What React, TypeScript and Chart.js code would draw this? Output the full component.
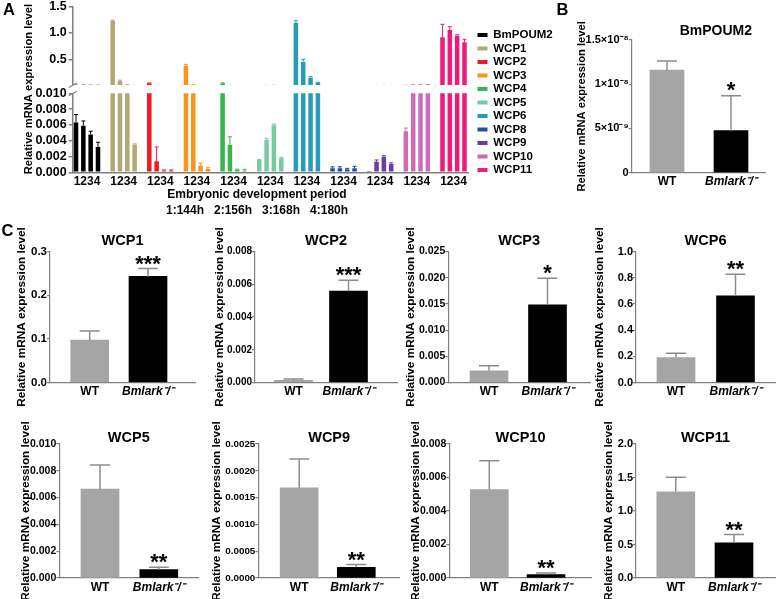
import React, { useEffect, useRef } from 'react';
import { Chart, registerables } from 'chart.js';

Chart.register(...registerables);

const FONT = 'Arial, "Liberation Sans", Helvetica, sans-serif';
Chart.defaults.font.family = FONT;
const AXIS = '#808080';
const GRAY = '#a5a5a5';
const BLACK = '#000000';
const ERR = '#8c8c8c';

// ---------------- Panel A data ----------------
const aGenes = ['BmPOUM2', 'WCP1', 'WCP2', 'WCP3', 'WCP4', 'WCP5', 'WCP6', 'WCP8', 'WCP9', 'WCP10', 'WCP11'];
const aColors = ['#000000', '#b3a878', '#ed1c24', '#f7941d', '#39b54a', '#78cba0', '#2a9bb7', '#1f4fa3', '#6a3d9a', '#cc6db3', '#ec1c7a'];
const aPeriods = ['1', '2', '3', '4'];
const aXTitle = ['Embryonic development period', '1:144h   2:156h   3:168h   4:180h'];
const aYTitle = 'Relative mRNA expression level';
const aUpperTicks = ['0.5', '1.0', '1.5'];
const aLowerTicks = ['0.000', '0.002', '0.004', '0.006', '0.008', '0.010'];

const aBmPOUM2 = [0.0063, 0.0059, 0.0048, 0.0032];
const aBmPOUM2Sd = [0.001, 0.0006, 0.0004, 0.0006];
const aWCP1 = [1.23, 0.087, 0.013, 0.0035];
const aWCP1Sd = [0.015, 0.015, 0.002, 0.0001];
const aWCP2 = [0.045, 0.0014, 0.0002, 0.0002];
const aWCP2Sd = [0.004, 0.0018, 0.0001, 0.0001];
const aWCP3 = [0.378, 0.012, 0.00085, 0.00042];
const aWCP3Sd = [0.025, 0.002, 0.0003, 0.00016];
const aWCP4 = [0.045, 0.0035, 0.0003, 0.0002];
const aWCP4Sd = [0.004, 0.001, 0.0001, 0.00018];
const aWCP5 = [0.00156, 0.0041, 0.00595, 0.00177];
const aWCP5Sd = [0.00005, 0.0002, 0.00015, 0.00013];
const aWCP6 = [1.196, 0.454, 0.15, 0.055];
const aWCP6Sd = [0.038, 0.046, 0.02, 0.006];
const aWCP8 = [0.0005, 0.0005, 0.0004, 0.0005];
const aWCP8Sd = [0.0002, 0.0002, 0.0001, 0.00025];
const aWCP9 = [0.00003, 0.00134, 0.00198, 0.00105];
const aWCP9Sd = [0, 0.00022, 0.00012, 0.00015];
const aWCP10 = [0.0052, 0.012, 0.012, 0.013];
const aWCP10Sd = [0.0004, 0.003, 0.002, 0.004];
const aWCP11 = [0.918, 1.057, 0.949, 0.823];
const aWCP11Sd = [0.247, 0.063, 0.019, 0.057];

const aMeans = [aBmPOUM2, aWCP1, aWCP2, aWCP3, aWCP4, aWCP5, aWCP6, aWCP8, aWCP9, aWCP10, aWCP11];
const aSds = [aBmPOUM2Sd, aWCP1Sd, aWCP2Sd, aWCP3Sd, aWCP4Sd, aWCP5Sd, aWCP6Sd, aWCP8Sd, aWCP9Sd, aWCP10Sd, aWCP11Sd];

// ---------------- Panel B data ----------------
const bTitle = 'BmPOUM2';
const bGroups = ['WT', 'Bmlark⁻/⁻'];
const bTickValues = [0, 5e-9, 1e-8, 1.5e-8];
const bTickLabels = ['0', '5×10⁻⁹', '1×10⁻⁸', '1.5×10⁻⁸'];
const bMeans = [1.161e-8, 4.75e-9];
const bSd = [1.02e-9, 3.96e-9];
const bStars = ['', '*'];

// ---------------- Panel C data ----------------
const cGroups = ['WT', 'Bmlark⁻/⁻'];
const cWCP1Ticks = ['0.0', '0.1', '0.2', '0.3'];
const cWCP1 = [0.097, 0.243];
const cWCP1Sd = [0.021, 0.018];
const cWCP1Stars = ['', '***'];
const cWCP2Ticks = ['0.000', '0.002', '0.004', '0.006', '0.008'];
const cWCP2 = [0.00013, 0.00558];
const cWCP2Sd = [0.00008, 0.00066];
const cWCP2Stars = ['', '***'];
const cWCP3Ticks = ['0.000', '0.005', '0.010', '0.015', '0.020', '0.025'];
const cWCP3 = [0.00225, 0.0148];
const cWCP3Sd = [0.00095, 0.0051];
const cWCP3Stars = ['', '*'];
const cWCP6Ticks = ['0.0', '0.2', '0.4', '0.6', '0.8', '1.0'];
const cWCP6 = [0.19, 0.662];
const cWCP6Sd = [0.033, 0.164];
const cWCP6Stars = ['', '**'];
const cWCP5Ticks = ['0.000', '0.002', '0.004', '0.006', '0.008', '0.010'];
const cWCP5 = [0.00663, 0.00063];
const cWCP5Sd = [0.0018, 0.00017];
const cWCP5Stars = ['', '**'];
const cWCP9Ticks = ['0.0000', '0.0005', '0.0010', '0.0015', '0.0020', '0.0025'];
const cWCP9 = [0.00168, 0.0002];
const cWCP9Sd = [0.00054, 0.00005];
const cWCP9Stars = ['', '**'];
const cWCP10Ticks = ['0.000', '0.002', '0.004', '0.006', '0.008'];
const cWCP10 = [0.00528, 0.0002];
const cWCP10Sd = [0.00172, 0.0001];
const cWCP10Stars = ['', '**'];
const cWCP11Ticks = ['0.0', '0.5', '1.0', '1.5', '2.0'];
const cWCP11 = [1.287, 0.524];
const cWCP11Sd = [0.217, 0.125];
const cWCP11Stars = ['', '**'];

// ---------------- plugins ----------------
const errorBarPlugin = {
  id: 'errorBars',
  afterDatasetsDraw(chart: any) {
    const ctx = chart.ctx;
    chart.data.datasets.forEach((ds: any, di: number) => {
      if (!ds.sd) return;
      const meta = chart.getDatasetMeta(di);
      const yScale = chart.scales[meta.yAxisID];
      const xScale = chart.scales[meta.xAxisID];
      ctx.save();
      ctx.beginPath();
      ctx.rect(xScale.left, yScale.top - 1, xScale.right - xScale.left, yScale.bottom - yScale.top + 1);
      ctx.clip();
      meta.data.forEach((el: any, i: number) => {
        const sd = ds.sd[i];
        if (!sd) return;
        const v = ds.data[i].y;
        const top = yScale.getPixelForValue(v + sd);
        const barTop = yScale.getPixelForValue(v);
        const col = Array.isArray(ds.errColor) ? ds.errColor[i] : ds.errColor;
        ctx.strokeStyle = col;
        ctx.lineWidth = ds.errWidth;
        ctx.beginPath();
        ctx.moveTo(el.x, barTop);
        ctx.lineTo(el.x, top);
        ctx.moveTo(el.x - ds.capHalf, top);
        ctx.lineTo(el.x + ds.capHalf, top);
        ctx.stroke();
      });
      ctx.restore();
    });
  },
};

const starPlugin = {
  id: 'stars',
  afterDatasetsDraw(chart: any) {
    const ctx = chart.ctx;
    chart.data.datasets.forEach((ds: any, di: number) => {
      if (!ds.stars) return;
      const meta = chart.getDatasetMeta(di);
      const yScale = chart.scales[meta.yAxisID];
      meta.data.forEach((el: any, i: number) => {
        const s = ds.stars[i];
        if (!s) return;
        const v = ds.data[i].y + (ds.sd ? ds.sd[i] : 0);
        const top = yScale.getPixelForValue(v);
        ctx.save();
        ctx.font = `bold ${ds.starSize}px ${FONT}`;
        const m = ctx.measureText(s);
        const center = top - ds.starGap;
        const baseline = center + (m.actualBoundingBoxAscent - m.actualBoundingBoxDescent) / 2;
        ctx.textAlign = 'center';
        ctx.textBaseline = 'alphabetic';
        ctx.fillStyle = '#000';
        ctx.fillText(s, el.x, baseline);
        ctx.restore();
      });
    });
  },
};

// ---------------- Panel A config ----------------
const A_CANVAS = { left: 0, top: 0, width: 560, height: 222 };
const A_AXIS_LEFT = 72.7;
const A_AXIS_RIGHT = 468;
const A_FIRST = 87;
const A_LAST = 453.5;
const A_TOP = 6.7;
const A_BREAK_TOP = 85;
const A_BREAK_BOTTOM = 93.3;
const A_ZERO = 172.3;

const breakPlugin = {
  id: 'axisBreak',
  afterDraw(chart: any) {
    const s = chart.scales.ySp;
    const x = chart.chartArea.left;
    const ctx = chart.ctx;
    ctx.save();
    ctx.strokeStyle = AXIS;
    ctx.lineWidth = 1.2;
    ctx.beginPath();
    ctx.moveTo(x - 4, s.top + 2.5);
    ctx.lineTo(x + 4, s.top - 2);
    ctx.moveTo(x - 4, s.bottom + 2.5);
    ctx.lineTo(x + 4, s.bottom - 2);
    ctx.stroke();
    ctx.restore();
  },
};

const legendPlacePlugin = {
  id: 'legendPlace',
  afterLayout(chart: any) {
    const lg = chart.legend;
    if (!lg) return;
    const h = lg.height;
    const w = lg.width;
    lg.left = 475.5;
    lg.top = 27.25;
    lg.right = lg.left + w;
    lg.bottom = lg.top + h;
  },
};

function makeA(): any {
  const pitch = (A_LAST - A_FIRST) / (aGenes.length - 1);
  const xMin = -(A_FIRST - A_AXIS_LEFT) / pitch;
  const xMax = aGenes.length - 1 + (A_AXIS_RIGHT - A_LAST) / pitch;
  const datasets: any[] = [];
  ['yTop', 'yBot'].forEach((axis) => {
    aPeriods.forEach((p, pi) => {
      datasets.push({
        label: 'Period ' + p,
        data: aMeans.map((g, gi) => ({ x: gi, y: g[pi] })),
        sd: aSds.map((g) => g[pi]),
        yAxisID: axis,
        xAxisID: 'x',
        stack: 'p' + pi,
        backgroundColor: aColors,
        borderWidth: 0,
        barPercentage: 0.62,
        categoryPercentage: 0.8,
        errColor: aColors,
        errWidth: 1,
        capHalf: 2,
      });
    });
  });
  const yWidth = A_AXIS_LEFT - A_CANVAS.left;
  const fitY = (s: any) => {
    s.width = yWidth;
    s.paddingTop = 0;
    s.paddingBottom = 0;
  };
  const tickFont = { family: FONT, size: 12.5, weight: 'bold' };
  const upperH = A_BREAK_TOP - A_TOP;
  const gapH = A_BREAK_BOTTOM - A_BREAK_TOP;
  const lowerH = A_ZERO - A_BREAK_BOTTOM;
  return {
    type: 'bar',
    data: { datasets },
    options: {
      responsive: false,
      animation: false,
      devicePixelRatio: 1,
      events: [],
      layout: { padding: { left: 0, top: A_TOP - A_CANVAS.top, right: A_CANVAS.left + A_CANVAS.width - A_AXIS_RIGHT, bottom: 0 } },
      plugins: {
        tooltip: { enabled: false },
        title: { display: false },
        legend: {
          display: true,
          position: 'chartArea',
          align: 'start',
          labels: {
            boxWidth: 10,
            boxHeight: 4,
            padding: 2,
            color: '#000',
            font: { family: FONT, size: 11.5, weight: 'bold' },
            generateLabels: () =>
              aGenes.map((g, i) => ({ text: g, fillStyle: aColors[i], strokeStyle: aColors[i], lineWidth: 0, hidden: false, index: i })),
          },
        },
      },
      scales: {
        x: {
          type: 'linear',
          min: xMin,
          max: xMax,
          offset: false,
          afterBuildTicks: (s: any) => {
            s.ticks = aGenes.map((_, i) => ({ value: i }));
          },
          ticks: { autoSkip: false, maxRotation: 0, padding: 2, color: '#000', font: { family: FONT, size: 12, weight: 'bold' }, callback: () => aPeriods.join('') },
          grid: { display: false, drawTicks: false },
          border: { display: true, color: AXIS, width: 1.5 },
          title: {
            display: true,
            text: aXTitle.map((t) => t + ' '.repeat(8)),
            color: '#000',
            font: { family: FONT, size: 12, weight: 'bold', lineHeight: '16.5px' },
            padding: { top: 0, bottom: 2.75 },
          },
          afterFit: (s: any) => {
            s.height = A_CANVAS.top + A_CANVAS.height - A_ZERO;
            s.paddingLeft = 0;
            s.paddingRight = 0;
          },
        },
        // left stacked axes are laid out in reverse order: last defined is on top
        yBot: {
          type: 'linear',
          position: 'left',
          stack: 'ya',
          stackWeight: lowerH,
          stacked: false,
          min: 0,
          max: 0.01,
          afterBuildTicks: (s: any) => {
            s.ticks = aLowerTicks.map((t) => ({ value: parseFloat(t) }));
          },
          ticks: { autoSkip: false, callback: (_v: any, i: number) => aLowerTicks[i], color: '#000', font: tickFont, padding: 2 },
          grid: { display: true, drawOnChartArea: false, drawTicks: true, tickLength: 4, color: AXIS, lineWidth: 1.5 },
          border: { display: true, color: AXIS, width: 1.5 },
          afterFit: fitY,
        },
        ySp: {
          type: 'linear',
          position: 'left',
          stack: 'ya',
          stackWeight: gapH,
          display: true,
          min: 0,
          max: 1,
          ticks: { display: false },
          grid: { display: false, drawTicks: false },
          border: { display: false },
          title: {
            display: true,
            text: aYTitle,
            color: '#000',
            font: { family: FONT, size: 11.2, weight: 'bold', lineHeight: '11.2px' },
            padding: { top: 29.4 - A_CANVAS.left - 5.6, bottom: 0 },
          },
          afterFit: fitY,
        },
        yTop: {
          type: 'linear',
          position: 'left',
          stack: 'ya',
          stackWeight: upperH,
          stacked: false,
          min: 0.01,
          max: 1.5,
          afterBuildTicks: (s: any) => {
            s.ticks = aUpperTicks.map((t) => ({ value: parseFloat(t) }));
          },
          ticks: { autoSkip: false, callback: (_v: any, i: number) => aUpperTicks[i], color: '#000', font: tickFont, padding: 2 },
          grid: { display: true, drawOnChartArea: false, drawTicks: true, tickLength: 4, color: AXIS, lineWidth: 1.5 },
          border: { display: true, color: AXIS, width: 1.5 },
          afterFit: fitY,
        },
      },
    },
    plugins: [errorBarPlugin, breakPlugin, legendPlacePlugin],
  };
}

// ---------------- Panels B / C config ----------------
type PairLayout = {
  left: number; top: number; width: number; height: number;
  L: number; end: number; c0: number; c1: number;
  topY: number; zeroY: number; titleY: number; yTitleX: number;
  tickSize: number; titleSize: number; yTitleSize: number; barW: number; starGap: number;
  titlePad?: number;
};

function makePair(title: string, groups: string[], tickValues: number[], tickLabels: string[], means: number[], sds: number[], stars: string[], lay: PairLayout): any {
  const pitch = lay.c1 - lay.c0;
  const xMin = -(lay.c0 - lay.L) / pitch;
  const xMax = 1 + (lay.end - lay.c1) / pitch;
  const titleLH = 12;
  const pt = lay.titleY - lay.top - titleLH / 2;
  const pb = Math.max(0, lay.topY - lay.top - pt - titleLH);
  const shownTitle = ' '.repeat(lay.titlePad || 0) + title;
  return {
    type: 'bar',
    data: {
      datasets: [
        {
          label: title,
          data: means.map((v, i) => ({ x: i, y: v })),
          backgroundColor: [GRAY, BLACK],
          borderWidth: 0,
          barThickness: lay.barW,
          sd: sds,
          errColor: ERR,
          errWidth: 1.5,
          capHalf: 10,
          stars,
          starSize: 22,
          starGap: lay.starGap,
        },
      ],
    },
    options: {
      responsive: false,
      animation: false,
      devicePixelRatio: 1,
      events: [],
      layout: { padding: { left: 0, top: 0, bottom: 0, right: lay.left + lay.width - lay.end } },
      plugins: {
        legend: { display: false },
        tooltip: { enabled: false },
        title: {
          display: true,
          text: shownTitle,
          fullSize: false,
          color: '#000',
          font: { family: FONT, size: lay.titleSize, weight: 'bold', lineHeight: titleLH + 'px' },
          padding: { top: pt, bottom: pb },
        },
      },
      scales: {
        x: {
          type: 'linear',
          min: xMin,
          max: xMax,
          offset: false,
          afterBuildTicks: (s: any) => {
            s.ticks = groups.map((_, i) => ({ value: i }));
          },
          ticks: {
            autoSkip: false,
            maxRotation: 0,
            padding: 2,
            color: '#000',
            callback: (_v: any, i: number) => groups[i],
            font: (c: any) => ({ family: FONT, size: 12, weight: 'bold', style: c.index === 1 ? 'italic' : 'normal' }),
          },
          grid: { display: false, drawTicks: false },
          border: { display: true, color: AXIS, width: 1.2 },
          afterFit: (s: any) => {
            s.height = lay.top + lay.height - lay.zeroY;
            s.paddingLeft = 0;
            s.paddingRight = 0;
          },
        },
        y: {
          type: 'linear',
          min: tickValues[0],
          max: tickValues[tickValues.length - 1],
          afterBuildTicks: (s: any) => {
            s.ticks = tickValues.map((v) => ({ value: v }));
          },
          ticks: { autoSkip: false, callback: (_v: any, i: number) => tickLabels[i], color: '#000', padding: 0, font: { family: FONT, size: lay.tickSize, weight: 'bold' } },
          grid: { display: true, drawOnChartArea: false, drawTicks: true, tickLength: 3, color: AXIS, lineWidth: 1.2 },
          border: { display: true, color: AXIS, width: 1.2 },
          title: {
            display: true,
            text: 'Relative mRNA expression level',
            color: '#000',
            font: { family: FONT, size: lay.yTitleSize, weight: 'bold', lineHeight: lay.yTitleSize + 'px' },
            padding: { top: lay.yTitleX - lay.left - lay.yTitleSize / 2, bottom: 0 },
          },
          afterFit: (s: any) => {
            s.width = lay.L - lay.left;
            s.paddingTop = 0;
            s.paddingBottom = 0;
          },
        },
      },
    },
    plugins: [errorBarPlugin, starPlugin],
  };
}

const ticksOf = (labels: string[]) => labels.map((t) => parseFloat(t));

const R1 = { top: 222, height: 188, topY: 251.5, zeroY: 382.5, titleY: 241 };
const R2 = { top: 412, height: 187, topY: 444, zeroY: 578, titleY: 437.5 };
const COMMON = { titleSize: 14.5, yTitleSize: 11.8, barW: 38, starGap: 8.5 };

const bLayout: PairLayout = {
  left: 569, top: 0, width: 208, height: 205, L: 631.7, end: 765, c0: 667, c1: 731,
  topY: 40, zeroY: 172.7, titleY: 30.8, yTitleX: 582, tickSize: 11, titleSize: 14, yTitleSize: 11.2, barW: 34, starGap: 9.5, titlePad: 9,
};

const cCharts: { key: string; make: () => any; lay: PairLayout }[] = [
  { key: 'WCP1', lay: { ...R1, ...COMMON, left: 0, width: 205, L: 50, end: 195, c0: 89.7, c1: 148, yTitleX: 21.5, tickSize: 11.5 }, make: () => null },
  { key: 'WCP2', lay: { ...R1, ...COMMON, left: 205, width: 195, L: 255, end: 397, c0: 293.5, c1: 348.5, yTitleX: 220, tickSize: 10 }, make: () => null },
  { key: 'WCP3', lay: { ...R1, ...COMMON, left: 400, width: 192, L: 448.3, end: 590, c0: 489, c1: 547.5, yTitleX: 410.5, tickSize: 10.5 }, make: () => null },
  { key: 'WCP6', lay: { ...R1, ...COMMON, left: 592, width: 185, L: 636, end: 775, c0: 676, c1: 735.5, yTitleX: 600, tickSize: 11 }, make: () => null },
  { key: 'WCP5', lay: { ...R2, ...COMMON, left: 0, width: 205, L: 59.3, end: 198.3, c0: 100, c1: 158.8, yTitleX: 25.5, tickSize: 10.5 }, make: () => null },
  { key: 'WCP9', lay: { ...R2, ...COMMON, left: 205, width: 195, L: 258.3, end: 400, c0: 299.2, c1: 356.3, yTitleX: 217, tickSize: 9.8 }, make: () => null },
  { key: 'WCP10', lay: { ...R2, ...COMMON, left: 400, width: 192, L: 449.3, end: 591.7, c0: 489.3, c1: 546, yTitleX: 416, tickSize: 10.5 }, make: () => null },
  { key: 'WCP11', lay: { ...R2, ...COMMON, left: 592, width: 185, L: 636, end: 775, c0: 675.8, c1: 734, yTitleX: 608.5, tickSize: 11 }, make: () => null },
];
const cData: Record<string, [string[], number[], number[], string[]]> = {
  WCP1: [cWCP1Ticks, cWCP1, cWCP1Sd, cWCP1Stars],
  WCP2: [cWCP2Ticks, cWCP2, cWCP2Sd, cWCP2Stars],
  WCP3: [cWCP3Ticks, cWCP3, cWCP3Sd, cWCP3Stars],
  WCP6: [cWCP6Ticks, cWCP6, cWCP6Sd, cWCP6Stars],
  WCP5: [cWCP5Ticks, cWCP5, cWCP5Sd, cWCP5Stars],
  WCP9: [cWCP9Ticks, cWCP9, cWCP9Sd, cWCP9Stars],
  WCP10: [cWCP10Ticks, cWCP10, cWCP10Sd, cWCP10Stars],
  WCP11: [cWCP11Ticks, cWCP11, cWCP11Sd, cWCP11Stars],
};
cCharts.forEach((c) => {
  const [ticks, means, sds, stars] = cData[c.key];
  c.make = () => makePair(c.key, cGroups, ticksOf(ticks), ticks, means, sds, stars, c.lay);
});

function ChartCanvas(props: { left: number; top: number; width: number; height: number; make: () => any }) {
  const ref = useRef<HTMLCanvasElement>(null);
  useEffect(() => {
    const chart = new Chart(ref.current as HTMLCanvasElement, props.make());
    return () => chart.destroy();
  }, []);
  return (
    <canvas
      ref={ref}
      width={props.width}
      height={props.height}
      style={{ position: 'absolute', left: props.left, top: props.top, width: props.width, height: props.height }}
    />
  );
}

const letterStyle: any = { position: 'absolute', fontFamily: FONT, fontWeight: 'bold', fontSize: 16.5, lineHeight: '16.5px', color: '#000' };

export default function App() {
  return (
    <div style={{ position: 'absolute', left: 0, top: 0, width: 777, height: 599, background: '#fff', overflow: 'hidden' }}>
      <ChartCanvas {...A_CANVAS} make={makeA} />
      <ChartCanvas left={bLayout.left} top={bLayout.top} width={bLayout.width} height={bLayout.height}
        make={() => makePair(bTitle, bGroups, bTickValues, bTickLabels, bMeans, bSd, bStars, bLayout)} />
      {cCharts.map((c) => (
        <ChartCanvas key={c.key} left={c.lay.left} top={c.lay.top} width={c.lay.width} height={c.lay.height} make={c.make} />
      ))}
      <div style={{ ...letterStyle, left: 3, top: 0.8 }}>A</div>
      <div style={{ ...letterStyle, left: 556.5, top: 1 }}>B</div>
      <div style={{ ...letterStyle, left: 1.5, top: 221.8 }}>C</div>
    </div>
  );
}
